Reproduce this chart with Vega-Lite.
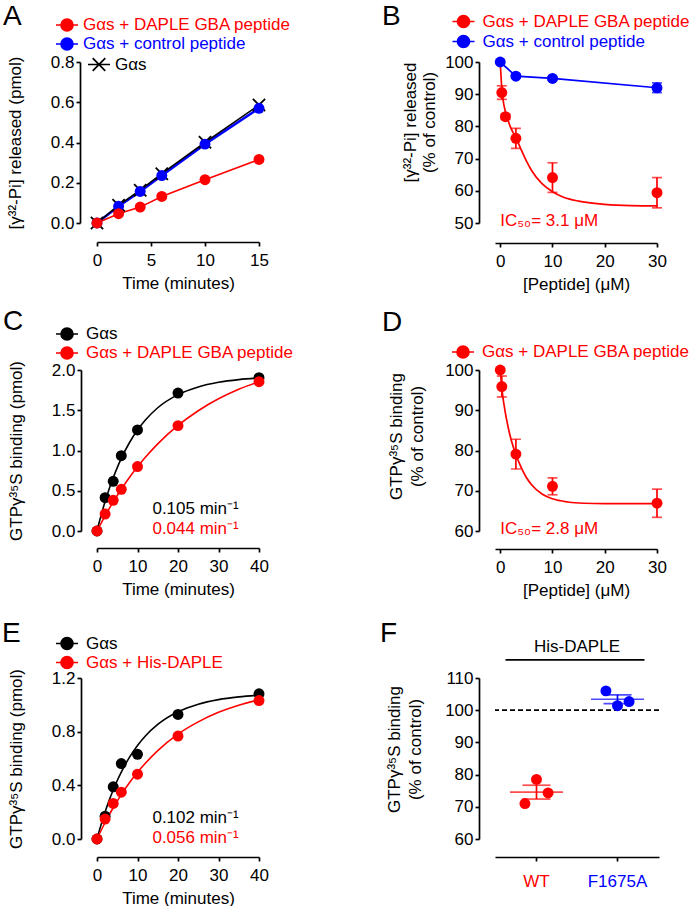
{
 "$schema": "https://vega.github.io/schema/vega-lite/v6.json",
 "background": "#ffffff",
 "padding": {"left": 2, "top": 3, "right": 0, "bottom": 0},
 "config": {
  "font": "Liberation Sans",
  "view": {"stroke": null},
  "axis": {"grid": false, "domainColor": "#000000", "domainWidth": 1.7, "tickColor": "#000000", "tickWidth": 1.7, "tickSize": 4, "labelFont": "Liberation Sans", "labelFontSize": 17, "labelColor": "#000000", "labelFlush": false, "labelOverlap": false, "labelBound": false, "titleFont": "Liberation Sans", "titleFontSize": 17, "titleFontWeight": "normal", "titleColor": "#000000"},
  "axisX": {"labelPadding": 6, "titlePadding": 7},
  "axisY": {"labelPadding": 2, "titlePadding": 26, "offset": 16},
  "legend": {"labelFont": "Liberation Sans", "labelFontSize": 17, "labelLimit": 400, "padding": 0, "symbolSize": 247, "symbolStrokeWidth": 1.7, "labelOffset": 10, "rowPadding": 0, "symbolOpacity": 1},
  "title": {"font": "Liberation Sans", "fontSize": 28, "fontWeight": "normal", "color": "#000000", "anchor": "start", "frame": "group", "baseline": "alphabetic", "offset": 0},
  "text": {"font": "Liberation Sans", "fontSize": 17}
 },
 "columns": 2,
 "spacing": {"row": 147, "column": 236},
 "bounds": "flush",
 "resolve": {"scale": {"color": "independent", "x": "independent", "y": "independent"}, "legend": {"color": "independent"}},
 "concat": [
  {
   "width": 162, "height": 161,
   "title": {"text": "A", "dx": -94, "dy": 19},
   "data": {"values": [
    {"s": "Gαs + control peptide", "t": 0, "v": 0},
    {"s": "Gαs + control peptide", "t": 2, "v": 0.083},
    {"s": "Gαs + control peptide", "t": 4, "v": 0.157},
    {"s": "Gαs + control peptide", "t": 6, "v": 0.236},
    {"s": "Gαs + control peptide", "t": 10, "v": 0.392},
    {"s": "Gαs + control peptide", "t": 15, "v": 0.570},
    {"s": "Gαs", "t": 0, "v": 0},
    {"s": "Gαs", "t": 2, "v": 0.088},
    {"s": "Gαs", "t": 4, "v": 0.163},
    {"s": "Gαs", "t": 6, "v": 0.245},
    {"s": "Gαs", "t": 10, "v": 0.401},
    {"s": "Gαs", "t": 15, "v": 0.586},
    {"s": "Gαs + DAPLE GBA peptide", "t": 0, "v": 0},
    {"s": "Gαs + DAPLE GBA peptide", "t": 2, "v": 0.046},
    {"s": "Gαs + DAPLE GBA peptide", "t": 4, "v": 0.079},
    {"s": "Gαs + DAPLE GBA peptide", "t": 6, "v": 0.132},
    {"s": "Gαs + DAPLE GBA peptide", "t": 10, "v": 0.215},
    {"s": "Gαs + DAPLE GBA peptide", "t": 15, "v": 0.316}
   ]},
   "encoding": {
    "x": {"field": "t", "type": "quantitative", "scale": {"domain": [0, 15], "nice": false, "zero": false}, "axis": {"values": [0, 5, 10, 15], "title": "Time (minutes)", "offset": 19, "labelOverlap": false}},
    "y": {"field": "v", "type": "quantitative", "scale": {"domain": [0, 0.8], "nice": false}, "axis": {"values": [0, 0.2, 0.4, 0.6, 0.8], "format": ".1f", "title": "[γ³²-Pi] released (pmol)", "offset": 17, "labelOverlap": false}}
   },
   "layer": [
    {"transform": [{"filter": "datum.s === 'Gαs + control peptide'"}], "mark": {"type": "line", "color": "#0000ff", "strokeWidth": 2.6}},
    {"transform": [{"filter": "datum.s === 'Gαs'"}], "mark": {"type": "line", "color": "#000000", "strokeWidth": 1.6}},
    {"transform": [{"filter": "datum.s === 'Gαs + DAPLE GBA peptide'"}], "mark": {"type": "line", "color": "#ff0000", "strokeWidth": 1.6}},
    {"transform": [{"filter": "datum.s === 'Gαs'"}], "mark": {"type": "point", "shape": "M-1,-1L1,1M-1,1L1,-1", "filled": false, "size": 150, "strokeWidth": 1.8, "opacity": 1},
     "encoding": {"color": {"field": "s", "type": "nominal", "scale": {"domain": ["Gαs"], "range": ["#000000"]},
      "legend": {"title": null, "orient": "none", "legendX": -7, "legendY": -6.5, "labelOffset": 7, "symbolType": "M-1.4,0H1.4M-0.8,-0.8L0.8,0.8M-0.8,0.8L0.8,-0.8",
       "encode": {"symbols": {"update": {"fill": {"value": "transparent"}, "stroke": {"value": "#000000"}}}}}}}},
    {"transform": [{"filter": "datum.s !== 'Gαs'"}], "mark": {"type": "point", "shape": "circle", "filled": true, "size": 120, "opacity": 1},
     "encoding": {"color": {"field": "s", "type": "nominal", "scale": {"domain": ["Gαs + DAPLE GBA peptide", "Gαs + control peptide"], "range": ["#ff0000", "#0000ff"]},
      "legend": {"title": null, "orient": "none", "legendX": -39, "legendY": -46, "rowPadding": -2, "labelOffset": 7, "symbolType": "M-1.4,0H1.4M-0.76,0A0.76,0.76,0,1,1,0.76,0A0.76,0.76,0,1,1,-0.76,0Z",
       "encode": {"symbols": {"update": {"fill": {"signal": "datum.value === 'Gαs + control peptide' ? '#0000ff' : '#ff0000'"}, "stroke": {"signal": "datum.value === 'Gαs + control peptide' ? '#0000ff' : '#ff0000'"}}},
                  "labels": {"update": {"fill": {"signal": "datum.value === 'Gαs + control peptide' ? '#0000ff' : '#ff0000'"}}}}}}}}
   ],
   "resolve": {"scale": {"color": "independent"}}
  },
  {
   "width": 162, "height": 161,
   "title": {"text": "B", "dx": -113, "dy": 22.5},
   "layer": [
    {"data": {"values": [{"x": 0, "v": 100}, {"x": 3, "v": 95.6}, {"x": 10, "v": 94.9}, {"x": 30, "v": 92.0}]},
     "mark": {"type": "line", "color": "#0000ff", "strokeWidth": 1.7},
     "encoding": {
      "x": {"field": "x", "type": "quantitative", "scale": {"domain": [-1, 30], "nice": false, "zero": false}, "title": "[Peptide] (μM)", "axis": {"values": [0, 10, 20, 30], "offset": 20, "labelOverlap": false}},
      "y": {"field": "v", "type": "quantitative", "scale": {"domain": [50, 100], "nice": false, "zero": false}, "title": ["[γ³²-Pi] released", "(% of control)"], "axis": {"values": [50, 60, 70, 80, 90, 100], "titlePadding": 6, "titleY": 60, "titleLineHeight": 19, "labelOverlap": false}}}},
    {"data": {"values": [{"x": 0, "v": 100}, {"x": 0.25, "v": 93}, {"x": 0.5, "v": 88.8}, {"x": 1, "v": 84.5}, {"x": 1.5, "v": 81.8}, {"x": 2, "v": 79.6}, {"x": 3, "v": 76.5}, {"x": 4, "v": 72.8}, {"x": 5, "v": 69.3}, {"x": 6, "v": 66.3}, {"x": 8, "v": 62.2}, {"x": 10, "v": 59.7}, {"x": 12, "v": 58.1}, {"x": 15, "v": 56.8}, {"x": 20, "v": 55.8}, {"x": 25, "v": 55.4}, {"x": 30, "v": 55.3}]},
     "mark": {"type": "line", "color": "#ff0000", "strokeWidth": 1.7, "interpolate": "monotone"},
     "encoding": {
      "x": {"field": "x", "type": "quantitative", "scale": {"domain": [-1, 30], "nice": false, "zero": false}, "title": "[Peptide] (μM)", "axis": {"values": [0, 10, 20, 30], "offset": 20, "labelOverlap": false}},
      "y": {"field": "v", "type": "quantitative", "scale": {"domain": [50, 100], "nice": false, "zero": false}, "title": ["[γ³²-Pi] released", "(% of control)"], "axis": {"values": [50, 60, 70, 80, 90, 100], "titlePadding": 6, "titleY": 60, "titleLineHeight": 19, "labelOverlap": false}}}},
    {"data": {"values": [{"x": 3, "v": 95.6, "e": 0.6}, {"x": 10, "v": 94.9, "e": 0.5}, {"x": 30, "v": 92.0, "e": 1.5}]},
     "mark": {"type": "errorbar", "color": "#0000ff", "thickness": 1.7, "ticks": {"size": 10, "thickness": 1.7}},
     "encoding": {
      "x": {"field": "x", "type": "quantitative", "scale": {"domain": [-1, 30], "nice": false, "zero": false}, "title": "[Peptide] (μM)", "axis": {"values": [0, 10, 20, 30], "offset": 20, "labelOverlap": false}},
      "y": {"field": "v", "type": "quantitative", "scale": {"domain": [50, 100], "nice": false, "zero": false}, "title": ["[γ³²-Pi] released", "(% of control)"], "axis": {"values": [50, 60, 70, 80, 90, 100], "titlePadding": 6, "titleY": 60, "titleLineHeight": 19, "labelOverlap": false}},
      "yError": {"field": "e"}}},
    {"data": {"values": [{"x": 0.3, "v": 90.5, "e": 2.1}, {"x": 1, "v": 83.0, "e": 0.8}, {"x": 3, "v": 76.3, "e": 3.1}, {"x": 10, "v": 64.1, "e": 4.6}, {"x": 30, "v": 59.4, "e": 4.7}]},
     "mark": {"type": "errorbar", "color": "#ff0000", "thickness": 1.7, "ticks": {"size": 10, "thickness": 1.7}},
     "encoding": {
      "x": {"field": "x", "type": "quantitative", "scale": {"domain": [-1, 30], "nice": false, "zero": false}, "title": "[Peptide] (μM)", "axis": {"values": [0, 10, 20, 30], "offset": 20, "labelOverlap": false}},
      "y": {"field": "v", "type": "quantitative", "scale": {"domain": [50, 100], "nice": false, "zero": false}, "title": ["[γ³²-Pi] released", "(% of control)"], "axis": {"values": [50, 60, 70, 80, 90, 100], "titlePadding": 6, "titleY": 60, "titleLineHeight": 19, "labelOverlap": false}},
      "yError": {"field": "e"}}},
    {"data": {"values": [
      {"s": "Gαs + control peptide", "x": 0, "v": 100}, {"s": "Gαs + control peptide", "x": 3, "v": 95.6}, {"s": "Gαs + control peptide", "x": 10, "v": 94.9}, {"s": "Gαs + control peptide", "x": 30, "v": 92.0},
      {"s": "Gαs + DAPLE GBA peptide", "x": 0.3, "v": 90.5}, {"s": "Gαs + DAPLE GBA peptide", "x": 1, "v": 83.0}, {"s": "Gαs + DAPLE GBA peptide", "x": 3, "v": 76.3}, {"s": "Gαs + DAPLE GBA peptide", "x": 10, "v": 64.1}, {"s": "Gαs + DAPLE GBA peptide", "x": 30, "v": 59.4}]},
     "mark": {"type": "point", "shape": "circle", "filled": true, "size": 120, "opacity": 1},
     "encoding": {
      "x": {"field": "x", "type": "quantitative", "scale": {"domain": [-1, 30], "nice": false, "zero": false}, "title": "[Peptide] (μM)", "axis": {"values": [0, 10, 20, 30], "offset": 20, "labelOverlap": false}},
      "y": {"field": "v", "type": "quantitative", "scale": {"domain": [50, 100], "nice": false, "zero": false}, "title": ["[γ³²-Pi] released", "(% of control)"], "axis": {"values": [50, 60, 70, 80, 90, 100], "titlePadding": 6, "titleY": 60, "titleLineHeight": 19, "labelOverlap": false}},
      "color": {"field": "s", "type": "nominal", "scale": {"domain": ["Gαs + DAPLE GBA peptide", "Gαs + control peptide"], "range": ["#ff0000", "#0000ff"]},
      "legend": {"title": null, "orient": "none", "legendX": -40.5, "legendY": -49.5, "rowPadding": 0, "symbolType": "M-1.4,0H1.4M-0.76,0A0.76,0.76,0,1,1,0.76,0A0.76,0.76,0,1,1,-0.76,0Z",
       "encode": {"symbols": {"update": {"fill": {"signal": "datum.value === 'Gαs + control peptide' ? '#0000ff' : '#ff0000'"}, "stroke": {"signal": "datum.value === 'Gαs + control peptide' ? '#0000ff' : '#ff0000'"}}},
                  "labels": {"update": {"fill": {"signal": "datum.value === 'Gαs + control peptide' ? '#0000ff' : '#ff0000'"}}}}}}}},
    {"data": {"values": [{"label": "IC₅₀= 3.1 μM"}]},
     "mark": {"type": "text", "align": "left", "baseline": "alphabetic", "color": "#ff0000", "fontSize": 17},
     "encoding": {
      "x": {"datum": 0, "type": "quantitative", "scale": {"domain": [-1, 30], "nice": false, "zero": false}, "title": "[Peptide] (μM)", "axis": {"values": [0, 10, 20, 30], "offset": 20, "labelOverlap": false}},
      "y": {"datum": 49.2, "type": "quantitative", "scale": {"domain": [50, 100], "nice": false, "zero": false}, "title": ["[γ³²-Pi] released", "(% of control)"], "axis": {"values": [50, 60, 70, 80, 90, 100], "titlePadding": 6, "titleY": 60, "titleLineHeight": 19, "labelOverlap": false}},
      "text": {"field": "label"}}}
   ]
  },
  {
   "width": 162, "height": 161,
   "title": {"text": "C", "dx": -94, "dy": 15},
   "layer": [
    {"data": {"values": [{"t": 0, "v": 0}, {"t": 1, "v": 0.192}, {"t": 2, "v": 0.366}, {"t": 3, "v": 0.521}, {"t": 4, "v": 0.662}, {"t": 5, "v": 0.788}, {"t": 6, "v": 0.902}, {"t": 8, "v": 1.096}, {"t": 10, "v": 1.254}, {"t": 12, "v": 1.382}, {"t": 15, "v": 1.531}, {"t": 20, "v": 1.694}, {"t": 25, "v": 1.79}, {"t": 30, "v": 1.847}, {"t": 35, "v": 1.881}, {"t": 40, "v": 1.901}]},
     "mark": {"type": "line", "color": "#000000", "strokeWidth": 1.6, "interpolate": "monotone"},
     "encoding": {
      "x": {"field": "t", "type": "quantitative", "scale": {"domain": [0, 40], "nice": false, "zero": false}, "title": "Time (minutes)", "axis": {"values": [0, 10, 20, 30, 40], "offset": 17, "labelOverlap": false}},
      "y": {"field": "v", "type": "quantitative", "scale": {"domain": [0, 2], "nice": false}, "title": "GTPγ³⁵S binding (pmol)", "axis": {"values": [0, 0.5, 1, 1.5, 2], "format": ".1f", "labelOverlap": false}}}},
    {"data": {"values": [{"t": 0, "v": 0}, {"t": 2, "v": 0.189}, {"t": 4, "v": 0.361}, {"t": 6, "v": 0.519}, {"t": 8, "v": 0.665}, {"t": 10, "v": 0.797}, {"t": 12, "v": 0.918}, {"t": 15, "v": 1.082}, {"t": 20, "v": 1.311}, {"t": 25, "v": 1.494}, {"t": 30, "v": 1.642}, {"t": 35, "v": 1.76}, {"t": 40, "v": 1.855}]},
     "mark": {"type": "line", "color": "#ff0000", "strokeWidth": 1.6, "interpolate": "monotone"},
     "encoding": {
      "x": {"field": "t", "type": "quantitative", "scale": {"domain": [0, 40], "nice": false, "zero": false}, "title": "Time (minutes)", "axis": {"values": [0, 10, 20, 30, 40], "offset": 17, "labelOverlap": false}},
      "y": {"field": "v", "type": "quantitative", "scale": {"domain": [0, 2], "nice": false}, "title": "GTPγ³⁵S binding (pmol)", "axis": {"values": [0, 0.5, 1, 1.5, 2], "format": ".1f", "labelOverlap": false}}}},
    {"data": {"values": [
      {"s": "Gαs", "t": 0, "v": 0}, {"s": "Gαs", "t": 2, "v": 0.414}, {"s": "Gαs", "t": 4, "v": 0.617}, {"s": "Gαs", "t": 6, "v": 0.936}, {"s": "Gαs", "t": 10, "v": 1.255}, {"s": "Gαs", "t": 20, "v": 1.714}, {"s": "Gαs", "t": 40, "v": 1.905},
      {"s": "Gαs + DAPLE GBA peptide", "t": 0, "v": 0}, {"s": "Gαs + DAPLE GBA peptide", "t": 2, "v": 0.211}, {"s": "Gαs + DAPLE GBA peptide", "t": 4, "v": 0.381}, {"s": "Gαs + DAPLE GBA peptide", "t": 6, "v": 0.518}, {"s": "Gαs + DAPLE GBA peptide", "t": 10, "v": 0.8}, {"s": "Gαs + DAPLE GBA peptide", "t": 20, "v": 1.309}, {"s": "Gαs + DAPLE GBA peptide", "t": 40, "v": 1.855}]},
     "mark": {"type": "point", "shape": "circle", "filled": true, "size": 120, "opacity": 1},
     "encoding": {
      "x": {"field": "t", "type": "quantitative", "scale": {"domain": [0, 40], "nice": false, "zero": false}, "title": "Time (minutes)", "axis": {"values": [0, 10, 20, 30, 40], "offset": 17, "labelOverlap": false}},
      "y": {"field": "v", "type": "quantitative", "scale": {"domain": [0, 2], "nice": false}, "title": "GTPγ³⁵S binding (pmol)", "axis": {"values": [0, 0.5, 1, 1.5, 2], "format": ".1f", "labelOverlap": false}},
      "color": {"field": "s", "type": "nominal", "scale": {"domain": ["Gαs", "Gαs + DAPLE GBA peptide"], "range": ["#000000", "#ff0000"]},
      "legend": {"title": null, "orient": "none", "legendX": -39, "legendY": -45, "rowPadding": -1.6, "symbolType": "M-1.4,0H1.4M-0.76,0A0.76,0.76,0,1,1,0.76,0A0.76,0.76,0,1,1,-0.76,0Z",
       "encode": {"symbols": {"update": {"fill": {"signal": "datum.value === 'Gαs' ? '#000000' : '#ff0000'"}, "stroke": {"signal": "datum.value === 'Gαs' ? '#000000' : '#ff0000'"}}},
                  "labels": {"update": {"fill": {"signal": "datum.value === 'Gαs' ? '#000000' : '#ff0000'"}}}}}}}},
    {"data": {"values": [{"label": "0.105 min⁻¹"}]},
     "mark": {"type": "text", "align": "right", "baseline": "alphabetic", "color": "#000000", "fontSize": 17},
     "encoding": {
      "x": {"datum": 35, "type": "quantitative", "scale": {"domain": [0, 40], "nice": false, "zero": false}, "title": "Time (minutes)", "axis": {"values": [0, 10, 20, 30, 40], "offset": 17, "labelOverlap": false}},
      "y": {"datum": 0.21, "type": "quantitative", "scale": {"domain": [0, 2], "nice": false}, "title": "GTPγ³⁵S binding (pmol)", "axis": {"values": [0, 0.5, 1, 1.5, 2], "format": ".1f", "labelOverlap": false}},
      "text": {"field": "label"}}},
    {"data": {"values": [{"label": "0.044 min⁻¹"}]},
     "mark": {"type": "text", "align": "right", "baseline": "alphabetic", "color": "#ff0000", "fontSize": 17},
     "encoding": {
      "x": {"datum": 35, "type": "quantitative", "scale": {"domain": [0, 40], "nice": false, "zero": false}, "title": "Time (minutes)", "axis": {"values": [0, 10, 20, 30, 40], "offset": 17, "labelOverlap": false}},
      "y": {"datum": -0.04, "type": "quantitative", "scale": {"domain": [0, 2], "nice": false}, "title": "GTPγ³⁵S binding (pmol)", "axis": {"values": [0, 0.5, 1, 1.5, 2], "format": ".1f", "labelOverlap": false}},
      "text": {"field": "label"}}}
   ]
  },
  {
   "width": 162, "height": 161,
   "title": {"text": "D", "dx": -113, "dy": -1.8},
   "layer": [
    {"data": {"values": [{"x": 0, "v": 100}, {"x": 0.25, "v": 96.4}, {"x": 0.5, "v": 93.4}, {"x": 0.75, "v": 91.2}, {"x": 1, "v": 89.2}, {"x": 1.5, "v": 85.9}, {"x": 2, "v": 83.1}, {"x": 2.5, "v": 80.9}, {"x": 3, "v": 79.0}, {"x": 4, "v": 75.8}, {"x": 5, "v": 73.3}, {"x": 6, "v": 71.5}, {"x": 8, "v": 69.2}, {"x": 10, "v": 68.0}, {"x": 13, "v": 67.2}, {"x": 16, "v": 66.9}, {"x": 20, "v": 66.8}, {"x": 30, "v": 66.8}]},
     "mark": {"type": "line", "color": "#ff0000", "strokeWidth": 1.7, "interpolate": "monotone"},
     "encoding": {
      "x": {"field": "x", "type": "quantitative", "scale": {"domain": [-1, 30], "nice": false, "zero": false}, "title": "[Peptide] (μM)", "axis": {"values": [0, 10, 20, 30], "offset": 18, "labelOverlap": false}},
      "y": {"field": "v", "type": "quantitative", "scale": {"domain": [60, 100], "nice": false, "zero": false}, "title": ["GTPγ³⁵S binding", "(% of control)"], "axis": {"values": [60, 70, 80, 90, 100], "titlePadding": 18, "titleY": 66, "titleLineHeight": 21, "labelOverlap": false}}}},
    {"data": {"values": [{"x": 0.3, "v": 95.9, "e": 2.6}, {"x": 3, "v": 79.1, "e": 3.7}, {"x": 10, "v": 71.1, "e": 2.1}, {"x": 30, "v": 66.9, "e": 3.5}]},
     "mark": {"type": "errorbar", "color": "#ff0000", "thickness": 1.7, "ticks": {"size": 10, "thickness": 1.7}},
     "encoding": {
      "x": {"field": "x", "type": "quantitative", "scale": {"domain": [-1, 30], "nice": false, "zero": false}, "title": "[Peptide] (μM)", "axis": {"values": [0, 10, 20, 30], "offset": 18, "labelOverlap": false}},
      "y": {"field": "v", "type": "quantitative", "scale": {"domain": [60, 100], "nice": false, "zero": false}, "title": ["GTPγ³⁵S binding", "(% of control)"], "axis": {"values": [60, 70, 80, 90, 100], "titlePadding": 18, "titleY": 66, "titleLineHeight": 21, "labelOverlap": false}},
      "yError": {"field": "e"}}},
    {"data": {"values": [{"s": "Gαs + DAPLE GBA peptide", "x": 0, "v": 100}, {"s": "Gαs + DAPLE GBA peptide", "x": 0.3, "v": 95.9}, {"s": "Gαs + DAPLE GBA peptide", "x": 3, "v": 79.1}, {"s": "Gαs + DAPLE GBA peptide", "x": 10, "v": 71.1}, {"s": "Gαs + DAPLE GBA peptide", "x": 30, "v": 66.9}]},
     "mark": {"type": "point", "shape": "circle", "filled": true, "size": 120, "opacity": 1},
     "encoding": {
      "x": {"field": "x", "type": "quantitative", "scale": {"domain": [-1, 30], "nice": false, "zero": false}, "title": "[Peptide] (μM)", "axis": {"values": [0, 10, 20, 30], "offset": 18, "labelOverlap": false}},
      "y": {"field": "v", "type": "quantitative", "scale": {"domain": [60, 100], "nice": false, "zero": false}, "title": ["GTPγ³⁵S binding", "(% of control)"], "axis": {"values": [60, 70, 80, 90, 100], "titlePadding": 18, "titleY": 66, "titleLineHeight": 21, "labelOverlap": false}},
      "color": {"field": "s", "type": "nominal", "scale": {"domain": ["Gαs + DAPLE GBA peptide"], "range": ["#ff0000"]},
      "legend": {"title": null, "orient": "none", "legendX": -41, "legendY": -27, "symbolType": "M-1.4,0H1.4M-0.76,0A0.76,0.76,0,1,1,0.76,0A0.76,0.76,0,1,1,-0.76,0Z",
       "encode": {"symbols": {"update": {"fill": {"value": "#ff0000"}, "stroke": {"value": "#ff0000"}}}, "labels": {"update": {"fill": {"value": "#ff0000"}}}}}}}},
    {"data": {"values": [{"label": "IC₅₀= 2.8 μM"}]},
     "mark": {"type": "text", "align": "left", "baseline": "alphabetic", "color": "#ff0000", "fontSize": 17},
     "encoding": {
      "x": {"datum": 0, "type": "quantitative", "scale": {"domain": [-1, 30], "nice": false, "zero": false}, "title": "[Peptide] (μM)", "axis": {"values": [0, 10, 20, 30], "offset": 18, "labelOverlap": false}},
      "y": {"datum": 59.3, "type": "quantitative", "scale": {"domain": [60, 100], "nice": false, "zero": false}, "title": ["GTPγ³⁵S binding", "(% of control)"], "axis": {"values": [60, 70, 80, 90, 100], "titlePadding": 18, "titleY": 66, "titleLineHeight": 21, "labelOverlap": false}},
      "text": {"field": "label"}}}
   ]
  },
  {
   "width": 162, "height": 161,
   "title": {"text": "E", "dx": -95, "dy": 17.5},
   "layer": [
    {"data": {"values": [{"t": 0, "v": 0}, {"t": 1, "v": 0.106}, {"t": 2, "v": 0.202}, {"t": 3, "v": 0.288}, {"t": 4, "v": 0.365}, {"t": 5, "v": 0.436}, {"t": 6, "v": 0.499}, {"t": 8, "v": 0.608}, {"t": 10, "v": 0.697}, {"t": 12, "v": 0.77}, {"t": 15, "v": 0.854}, {"t": 20, "v": 0.948}, {"t": 25, "v": 1.005}, {"t": 30, "v": 1.039}, {"t": 35, "v": 1.059}, {"t": 40, "v": 1.072}]},
     "mark": {"type": "line", "color": "#000000", "strokeWidth": 1.6, "interpolate": "monotone"},
     "encoding": {
      "x": {"field": "t", "type": "quantitative", "scale": {"domain": [0, 40], "nice": false, "zero": false}, "title": "Time (minutes)", "axis": {"values": [0, 10, 20, 30, 40], "offset": 18, "labelOverlap": false}},
      "y": {"field": "v", "type": "quantitative", "scale": {"domain": [0, 1.2], "nice": false}, "title": "GTPγ³⁵S binding (pmol)", "axis": {"values": [0, 0.4, 0.8, 1.2], "format": ".1f", "labelOverlap": false}}}},
    {"data": {"values": [{"t": 0, "v": 0}, {"t": 2, "v": 0.123}, {"t": 4, "v": 0.233}, {"t": 6, "v": 0.331}, {"t": 8, "v": 0.419}, {"t": 10, "v": 0.498}, {"t": 12, "v": 0.567}, {"t": 15, "v": 0.659}, {"t": 20, "v": 0.782}, {"t": 25, "v": 0.873}, {"t": 30, "v": 0.944}, {"t": 35, "v": 0.997}, {"t": 40, "v": 1.037}]},
     "mark": {"type": "line", "color": "#ff0000", "strokeWidth": 1.6, "interpolate": "monotone"},
     "encoding": {
      "x": {"field": "t", "type": "quantitative", "scale": {"domain": [0, 40], "nice": false, "zero": false}, "title": "Time (minutes)", "axis": {"values": [0, 10, 20, 30, 40], "offset": 18, "labelOverlap": false}},
      "y": {"field": "v", "type": "quantitative", "scale": {"domain": [0, 1.2], "nice": false}, "title": "GTPγ³⁵S binding (pmol)", "axis": {"values": [0, 0.4, 0.8, 1.2], "format": ".1f", "labelOverlap": false}}}},
    {"data": {"values": [
      {"s": "Gαs", "t": 0, "v": 0}, {"s": "Gαs", "t": 2, "v": 0.17}, {"s": "Gαs", "t": 4, "v": 0.389}, {"s": "Gαs", "t": 6, "v": 0.562}, {"s": "Gαs", "t": 10, "v": 0.631}, {"s": "Gαs", "t": 20, "v": 0.928}, {"s": "Gαs", "t": 40, "v": 1.082},
      {"s": "Gαs + His-DAPLE", "t": 0, "v": 0}, {"s": "Gαs + His-DAPLE", "t": 2, "v": 0.149}, {"s": "Gαs + His-DAPLE", "t": 4, "v": 0.265}, {"s": "Gαs + His-DAPLE", "t": 6, "v": 0.349}, {"s": "Gαs + His-DAPLE", "t": 10, "v": 0.483}, {"s": "Gαs + His-DAPLE", "t": 20, "v": 0.767}, {"s": "Gαs + His-DAPLE", "t": 40, "v": 1.032}]},
     "mark": {"type": "point", "shape": "circle", "filled": true, "size": 120, "opacity": 1},
     "encoding": {
      "x": {"field": "t", "type": "quantitative", "scale": {"domain": [0, 40], "nice": false, "zero": false}, "title": "Time (minutes)", "axis": {"values": [0, 10, 20, 30, 40], "offset": 18, "labelOverlap": false}},
      "y": {"field": "v", "type": "quantitative", "scale": {"domain": [0, 1.2], "nice": false}, "title": "GTPγ³⁵S binding (pmol)", "axis": {"values": [0, 0.4, 0.8, 1.2], "format": ".1f", "labelOverlap": false}},
      "color": {"field": "s", "type": "nominal", "scale": {"domain": ["Gαs", "Gαs + His-DAPLE"], "range": ["#000000", "#ff0000"]},
      "legend": {"title": null, "orient": "none", "legendX": -39, "legendY": -43.5, "rowPadding": -3.3, "symbolType": "M-1.4,0H1.4M-0.76,0A0.76,0.76,0,1,1,0.76,0A0.76,0.76,0,1,1,-0.76,0Z",
       "encode": {"symbols": {"update": {"fill": {"signal": "datum.value === 'Gαs' ? '#000000' : '#ff0000'"}, "stroke": {"signal": "datum.value === 'Gαs' ? '#000000' : '#ff0000'"}}},
                  "labels": {"update": {"fill": {"signal": "datum.value === 'Gαs' ? '#000000' : '#ff0000'"}}}}}}}},
    {"data": {"values": [{"label": "0.102 min⁻¹"}]},
     "mark": {"type": "text", "align": "right", "baseline": "alphabetic", "color": "#000000", "fontSize": 17},
     "encoding": {
      "x": {"datum": 35, "type": "quantitative", "scale": {"domain": [0, 40], "nice": false, "zero": false}, "title": "Time (minutes)", "axis": {"values": [0, 10, 20, 30, 40], "offset": 18, "labelOverlap": false}},
      "y": {"datum": 0.12, "type": "quantitative", "scale": {"domain": [0, 1.2], "nice": false}, "title": "GTPγ³⁵S binding (pmol)", "axis": {"values": [0, 0.4, 0.8, 1.2], "format": ".1f", "labelOverlap": false}},
      "text": {"field": "label"}}},
    {"data": {"values": [{"label": "0.056 min⁻¹"}]},
     "mark": {"type": "text", "align": "right", "baseline": "alphabetic", "color": "#ff0000", "fontSize": 17},
     "encoding": {
      "x": {"datum": 35, "type": "quantitative", "scale": {"domain": [0, 40], "nice": false, "zero": false}, "title": "Time (minutes)", "axis": {"values": [0, 10, 20, 30, 40], "offset": 18, "labelOverlap": false}},
      "y": {"datum": -0.028, "type": "quantitative", "scale": {"domain": [0, 1.2], "nice": false}, "title": "GTPγ³⁵S binding (pmol)", "axis": {"values": [0, 0.4, 0.8, 1.2], "format": ".1f", "labelOverlap": false}},
      "text": {"field": "label"}}}
   ]
  },
  {
   "width": 164, "height": 161,
   "title": {"text": "F", "dx": -115, "dy": 13.6},
   "layer": [
    {"data": {"values": [{}]},
     "mark": {"type": "rule", "strokeDash": [5, 3], "strokeWidth": 1.7, "color": "#000000"},
     "encoding": {"y": {"datum": 100, "type": "quantitative", "scale": {"domain": [60, 110], "nice": false, "zero": false}, "title": ["GTPγ³⁵S binding", "(% of control)"], "axis": {"values": [60, 70, 80, 90, 100, 110], "titlePadding": 20, "titleY": 71, "titleLineHeight": 21, "labelOverlap": false}}}},
    {"data": {"values": [{"label": "His-DAPLE"}]},
     "mark": {"type": "text", "align": "center", "baseline": "alphabetic", "color": "#000000", "fontSize": 17},
     "encoding": {
      "x": {"datum": "WT", "type": "nominal", "bandPosition": 1, "title": null},
      "y": {"datum": 118, "type": "quantitative", "scale": {"domain": [60, 110], "nice": false, "zero": false}, "title": ["GTPγ³⁵S binding", "(% of control)"], "axis": {"values": [60, 70, 80, 90, 100, 110], "titlePadding": 20, "titleY": 71, "titleLineHeight": 21, "labelOverlap": false}},
      "text": {"field": "label"}}},
    {"data": {"values": [{}]},
     "mark": {"type": "rule", "strokeWidth": 1.7, "color": "#000000", "xOffset": -31, "x2Offset": 27},
     "encoding": {
      "x": {"datum": "WT", "type": "nominal", "title": null},
      "x2": {"datum": "F1675A"},
      "y": {"datum": 115.6, "type": "quantitative", "scale": {"domain": [60, 110], "nice": false, "zero": false}, "title": ["GTPγ³⁵S binding", "(% of control)"], "axis": {"values": [60, 70, 80, 90, 100, 110], "titlePadding": 20, "titleY": 71, "titleLineHeight": 21, "labelOverlap": false}}}},
    {"data": {"values": [{"g": "WT", "v": 74.55, "e": 2.15}, {"g": "F1675A", "v": 103.4, "e": 1.35}]},
     "mark": {"type": "tick", "size": 53, "thickness": 1.7},
     "encoding": {
      "x": {"field": "g", "type": "nominal", "title": null},
      "y": {"field": "v", "type": "quantitative", "scale": {"domain": [60, 110], "nice": false, "zero": false}, "title": ["GTPγ³⁵S binding", "(% of control)"], "axis": {"values": [60, 70, 80, 90, 100, 110], "titlePadding": 20, "titleY": 71, "titleLineHeight": 21, "labelOverlap": false}},
      "color": {"field": "g", "type": "nominal", "scale": {"domain": ["WT", "F1675A"], "range": ["#ff0000", "#0000ff"]}, "legend": null}}},
    {"data": {"values": [{"g": "WT", "v": 74.55, "e": 2.15}, {"g": "F1675A", "v": 103.4, "e": 1.35}]},
     "mark": {"type": "errorbar", "thickness": 1.7, "ticks": {"size": 28, "thickness": 1.7}},
     "encoding": {
      "x": {"field": "g", "type": "nominal", "title": null},
      "y": {"field": "v", "type": "quantitative", "scale": {"domain": [60, 110], "nice": false, "zero": false}, "title": ["GTPγ³⁵S binding", "(% of control)"], "axis": {"values": [60, 70, 80, 90, 100, 110], "titlePadding": 20, "titleY": 71, "titleLineHeight": 21, "labelOverlap": false}},
      "yError": {"field": "e"},
      "color": {"field": "g", "type": "nominal", "scale": {"domain": ["WT", "F1675A"], "range": ["#ff0000", "#0000ff"]}, "legend": null}}},
    {"data": {"values": [{"g": "WT", "r": 1, "v": 71.0}, {"g": "WT", "r": 2, "v": 78.5}, {"g": "WT", "r": 3, "v": 74.3}, {"g": "F1675A", "r": 1, "v": 106.0}, {"g": "F1675A", "r": 2, "v": 101.4}, {"g": "F1675A", "r": 3, "v": 102.7}]},
     "mark": {"type": "point", "shape": "circle", "filled": true, "size": 120, "opacity": 1},
     "encoding": {
      "x": {"field": "g", "type": "nominal", "sort": ["WT", "F1675A"], "title": null, "scale": {"type": "band", "domain": ["WT", "F1675A"], "paddingInner": 0, "paddingOuter": 0.0125},
       "axis": {"offset": 18, "labelPadding": 12, "labelAngle": 0, "labelAlign": "center", "labelBaseline": "top", "labelColor": {"condition": {"test": "datum.value === 'WT'", "value": "#ff0000"}, "value": "#0000ff"}}},
      "xOffset": {"field": "r", "type": "nominal", "scale": {"domain": [-1, 0, 1, 2, 3, 4, 5]}},
      "y": {"field": "v", "type": "quantitative", "scale": {"domain": [60, 110], "nice": false, "zero": false}, "title": ["GTPγ³⁵S binding", "(% of control)"], "axis": {"values": [60, 70, 80, 90, 100, 110], "titlePadding": 20, "titleY": 71, "titleLineHeight": 21, "labelOverlap": false}},
      "color": {"field": "g", "type": "nominal", "scale": {"domain": ["WT", "F1675A"], "range": ["#ff0000", "#0000ff"]}, "legend": null}}}
   ]
  }
 ]
}
